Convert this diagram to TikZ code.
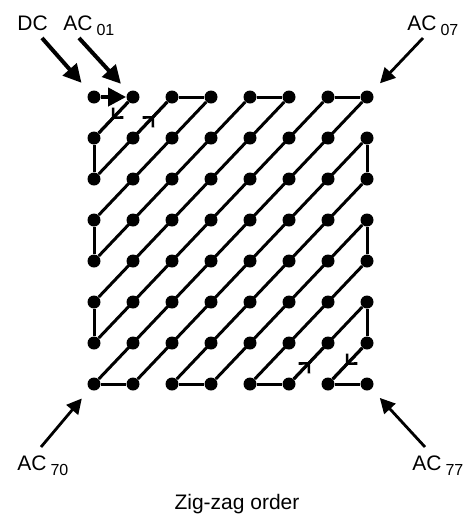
\documentclass[tikz,border=0pt]{standalone}
\usepackage{fontspec}
\setmainfont{Liberation Sans}
\usetikzlibrary{arrows.meta,decorations.markings}

\tikzset{
  dot/.style={circle,fill=black,inner sep=0pt,minimum size=6.5pt},
  zig/.style={line width=1.5pt},
  bigarrow/.style={line width=2pt,-{Triangle[length=9pt,width=9pt]}},
  cornerarrow/.style={line width=1.4pt,-{Triangle[length=7.5pt,width=7.5pt]},shorten >=6pt},
  midarrow/.style={postaction={decorate},decoration={markings,
    mark=at position 0.55 with {\arrow{Straight Barb[angle=90:5pt,line width=1.3pt]}}}},
  lbl/.style={font=\fontsize{10.5}{12}\selectfont,inner sep=0pt}
}
\newcommand{\acsub}[1]{AC\hspace{2pt}\raisebox{-2.5pt}{\fontsize{8}{9}\selectfont #1}}

\begin{document}
\begin{tikzpicture}[x=0.5pt,y=-0.5pt]
\useasboundingbox (0,0) rectangle (469,515);

% the 8x8 coefficients
\foreach \i in {0,...,7}
  \foreach \j in {0,...,7}
    \node[dot] (d-\i-\j) at ({94+39*\j},{97+41*\i}) {};

% diagonals
\foreach \s in {1,...,7} \draw[zig] (d-0-\s) -- (d-\s-0);
\foreach \k in {1,...,6} \draw[zig] (d-\k-7) -- (d-7-\k);

% steps along the edges
\foreach \a/\b in {0-2/0-3,0-4/0-5,0-6/0-7,
                   1-0/2-0,3-0/4-0,5-0/6-0,
                   1-7/2-7,3-7/4-7,5-7/6-7,
                   7-0/7-1,7-2/7-3,7-4/7-5,7-6/7-7}
  \draw[zig] (d-\a) -- (d-\b);

\draw[bigarrow] (d-0-0) -- (d-0-1);
\draw[zig,midarrow] (d-0-1) -- (d-1-0);
\draw[zig,midarrow] (d-1-1) -- (d-0-2);
\draw[zig,midarrow] (d-7-5) -- (d-6-6);
\draw[zig,midarrow] (d-6-7) -- (d-7-6);

% labels
\node[lbl,anchor=base west] (dc) at (17,30) {DC};
\node[lbl,anchor=base west] (ac01) at (63,30) {\acsub{01}};
\node[lbl,anchor=base west] (ac07) at (407,30) {\acsub{07}};
\node[lbl,anchor=base west] (ac70) at (17,470) {\acsub{70}};
\node[lbl,anchor=base west] (ac77) at (412,470) {\acsub{77}};
\node[lbl,anchor=base] (title) at (237,509) {Zig-zag order};

\coordinate (dc-tail) at (42,38);
\coordinate (ac01-tail) at (79,38);
\coordinate (ac07-tail) at (423,38);
\coordinate (ac70-tail) at (41,447);
\coordinate (ac77-tail) at (425,447);

\draw[bigarrow,shorten >=6pt] (dc-tail) -- (d-0-0);
\draw[bigarrow,shorten >=5.5pt] (ac01-tail) -- (d-0-1);
\draw[cornerarrow] (ac07-tail) -- (d-0-7);
\draw[cornerarrow] (ac70-tail) -- (d-7-0);
\draw[cornerarrow] (ac77-tail) -- (d-7-7);
\end{tikzpicture}
\end{document}
